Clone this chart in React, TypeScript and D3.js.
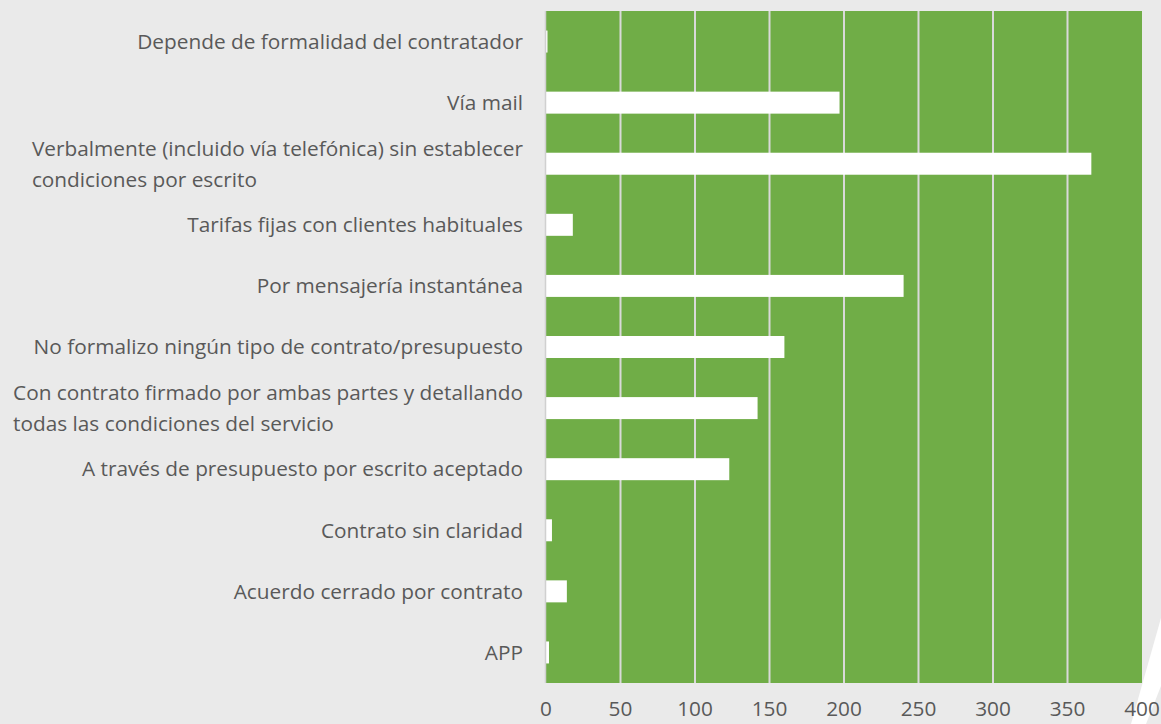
import { useEffect, useRef } from 'react'
import * as d3 from 'd3'

const categories = [
  'Depende de formalidad del contratador',
  'Vía mail',
  'Verbalmente (incluido vía telefónica) sin establecer\ncondiciones por escrito',
  'Tarifas fijas con clientes habituales',
  'Por mensajería instantánea',
  'No formalizo ningún tipo de contrato/presupuesto',
  'Con contrato firmado por ambas partes y detallando\ntodas las condiciones del servicio',
  'A través de presupuesto por escrito aceptado',
  'Contrato sin claridad',
  'Acuerdo cerrado por contrato',
  'APP',
]
const values = [1, 197, 366, 18, 240, 160, 142, 123, 4, 14, 2]
const xTicks = [0, 50, 100, 150, 200, 250, 300, 350, 400]

const W = 1161
const H = 724
const FONT = '"Open Sans", sans-serif'
const FS = '20.8px'

export default function App() {
  const svgRef = useRef<SVGSVGElement>(null)

  useEffect(() => {
    if (!svgRef.current) return
    const svg = d3.select(svgRef.current)
    svg.selectAll('*').remove()

    const margin = { top: 11, right: 19, bottom: 41, left: 546 }
    const innerW = W - margin.left - margin.right
    const innerH = H - margin.top - margin.bottom

    svg.append('rect').attr('width', W).attr('height', H).attr('fill', '#EAEAEA')

    // decorative stripe bottom right
    svg.append('polygon')
      .attr('points', '1131,724 1146,724 1161,686 1161,618')
      .attr('fill', '#FFFFFF')

    const g = svg.append('g').attr('transform', `translate(${margin.left},${margin.top})`)

    const x = d3.scaleLinear().domain([0, 400]).range([0, innerW])
    const y = d3.scaleBand().domain(categories).range([0, innerH]).paddingInner(0.64).paddingOuter(0.32)

    // plot area
    g.append('rect').attr('width', innerW).attr('height', innerH).attr('fill', '#70AD47')

    // grid
    g.append('g')
      .selectAll('line')
      .data(xTicks.filter(t => t > 0 && t < 400))
      .join('line')
      .attr('x1', d => x(d)).attr('x2', d => x(d))
      .attr('y1', 0).attr('y2', innerH)
      .attr('stroke', '#D9D9D9').attr('stroke-width', 2)

    // bars
    g.append('g')
      .selectAll('rect')
      .data(categories)
      .join('rect')
      .attr('x', 0)
      .attr('y', d => y(d)!)
      .attr('width', (_, i) => x(values[i]))
      .attr('height', y.bandwidth())
      .attr('fill', '#FFFFFF')

    // left axis line
    g.append('line')
      .attr('x1', -0.5).attr('x2', -0.5).attr('y1', 0).attr('y2', innerH)
      .attr('stroke', '#D0D0D0').attr('stroke-width', 1.5)

    // category labels: block right-aligned, wrapped lines left-aligned
    const lh = 31
    categories.forEach(c => {
      const lines = c.split('\n')
      const cy = y(c)! + y.bandwidth() / 2
      const t = g.append('text')
        .attr('text-anchor', 'start')
        .attr('font-family', FONT).attr('font-size', FS).attr('fill', '#595959')
      const spans = lines.map((ln, k) =>
        t.append('tspan')
          .attr('x', 0)
          .attr('y', cy + (k - (lines.length - 1) / 2) * lh)
          .attr('dy', '0.35em')
          .text(ln))
      const maxW = d3.max(spans, s => (s.node() as SVGTSpanElement).getComputedTextLength()) ?? 0
      spans.forEach(s => s.attr('x', -23 - maxW))
    })

    // x tick labels
    g.append('g')
      .selectAll('text')
      .data(xTicks)
      .join('text')
      .attr('x', d => x(d))
      .attr('y', innerH + 26)
      .attr('dy', '0.35em')
      .attr('text-anchor', 'middle')
      .attr('font-family', FONT).attr('font-size', FS).attr('fill', '#595959')
      .text(d => String(d))
  }, [])

  return (
    <div style={{ position: 'fixed', left: 0, top: 0 }}>
      <svg ref={svgRef} width={W} height={H} style={{ display: 'block' }} />
    </div>
  )
}
